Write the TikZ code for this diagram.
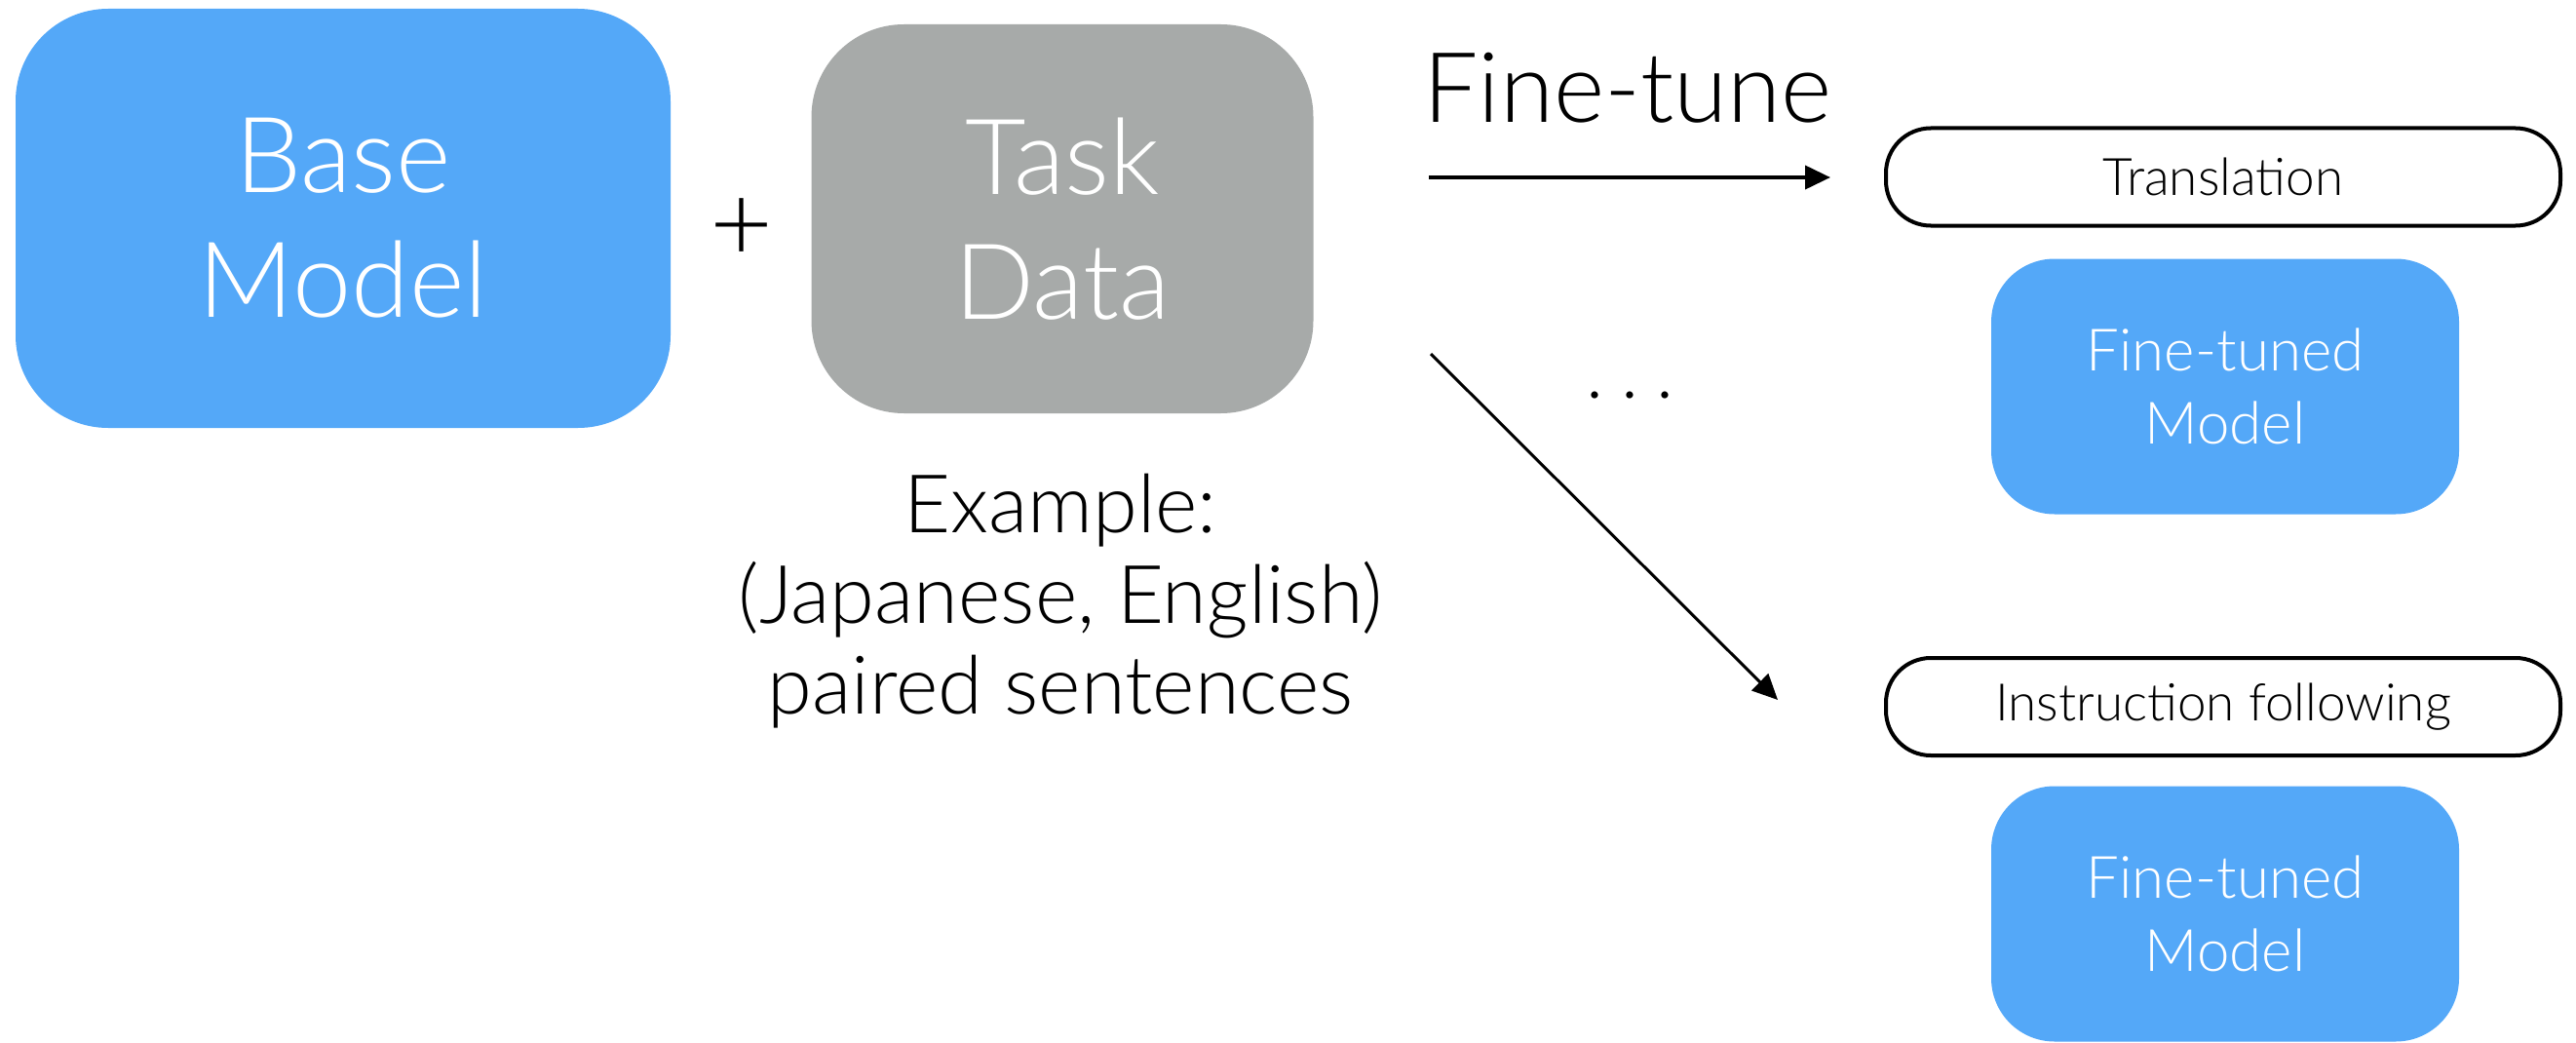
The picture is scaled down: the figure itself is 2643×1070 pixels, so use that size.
\documentclass[tikz,border=0pt]{standalone}
\usepackage{fontspec}
\setmainfont{Lato Light}
\usetikzlibrary{arrows.meta}
\definecolor{mblue}{HTML}{54A8F8}
\definecolor{mgray}{HTML}{A7AAA9}
\begin{document}
\begin{tikzpicture}[x=1pt,y=-1pt,
  bigbox/.style={rounded corners=95pt, inner sep=0pt, text=white, align=center,
    font=\fontsize{108}{128}\selectfont},
  ftbox/.style={rounded corners=65pt, inner sep=0pt, text=white, align=center,
    fill=mblue, minimum width=480pt, minimum height=262pt,
    font=\fontsize{60}{75}\selectfont},
  pill/.style={draw=black, line width=4pt, rounded corners=46pt, inner sep=0pt,
    minimum width=692pt, minimum height=100pt, font=\fontsize{53}{60}\selectfont},
  label/.style={inner sep=0pt, text=black},
  arr/.style={-{Triangle[length=26pt,width=24pt]}}
]
\useasboundingbox (0,0) rectangle (2643,1070);

\node[bigbox, fill=mblue, minimum width=672pt, minimum height=430pt] (base) at (352,224) {Base\\Model};
\node[label, font=\fontsize{112}{112}\selectfont] (plus) at (761,236) {+};
\node[bigbox, fill=mgray, minimum width=515pt, minimum height=399pt] (task) at (1090,224.5) {Task\\Data};

\node[label, align=center, font=\fontsize{83}{93}\selectfont] (example) at (1088,617)
  {Example:\\(Japanese, English)\\paired sentences};

\node[label, anchor=base, font=\fontsize{100}{100}\selectfont] (ft) at (1670,126) {Fine-tune};
\node[label, anchor=base, font=\fontsize{77}{77}\selectfont] (dots) at (1672,408) {.\kern18pt.\kern18pt.};

\node[pill] (trans) at (2281,181.5) {Translation};
\node[ftbox] (ft1) at (2283,396.5) {Fine-tuned\\Model};
\node[pill] (instr) at (2281,725) {Instruction following};
\node[ftbox] (ft2) at (2283,937.5) {Fine-tuned\\Model};

\coordinate (h1) at (1466,182);
\coordinate (h2) at (1878,182);
\coordinate (d1) at (1468,363);
\coordinate (d2) at (1824,718);
\draw[line width=4pt, arr] (h1) -- (h2);
\draw[line width=3pt, arr] (d1) -- (d2);
\end{tikzpicture}
\end{document}
